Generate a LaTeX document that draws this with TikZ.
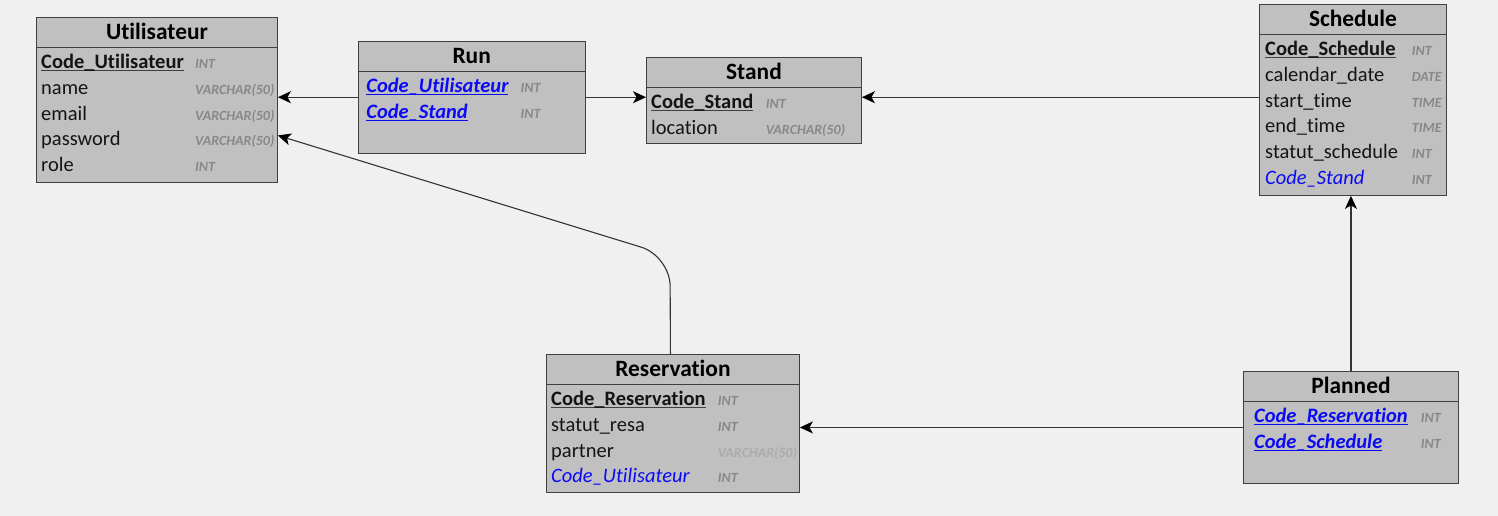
\documentclass[tikz,border=0pt]{standalone}
\usepackage{fontspec}
\setmainfont{Carlito}[Ligatures=NoCommon]
\usetikzlibrary{arrows.meta}

\definecolor{bgcol}{HTML}{F0F0F0}
\definecolor{boxfill}{HTML}{C0C0C0}
\definecolor{boxline}{HTML}{404040}
\definecolor{typecol}{HTML}{888888}
\definecolor{fkcol}{HTML}{0A0AF5}
\definecolor{relcol}{HTML}{333333}

% underlined key field
\newsavebox\ulbox
\newcommand\keyul[2]{\sbox\ulbox{#2}\rlap{\color{#1}\rule[-2.6pt]{\wd\ulbox}{0.9pt}}\usebox\ulbox}
\newcommand\pkey[1]{\textbf{\keyul{boxline}{#1}}}
\newcommand\fkey[1]{{\color{fkcol}\textbf{\textit{\keyul{fkcol}{#1}}}}}
\newcommand\fref[1]{{\color{fkcol}\textit{#1}}}

\tikzset{
  tbl/.style={draw=boxline, fill=boxfill, line width=0.9pt, inner sep=0pt},
  ttl/.style={font=\fontsize{23.4}{26}\selectfont\bfseries, anchor=base, inner sep=0pt, text=black},
  hdr/.style={draw=boxline, line width=0.9pt},
  fld/.style={font=\fontsize{20.5}{24}\selectfont, anchor=base west, inner sep=0pt, text=black!92},
  typ/.style={font=\fontsize{14}{16}\selectfont\bfseries\itshape, anchor=base west, inner sep=0pt, text=typecol},
  rel/.style={draw=relcol, line width=1.1pt, -{Stealth[length=13pt, width=12pt, inset=3.5pt, color=black]}}
}

% entity box: id, x, y, width, height, title
\newcommand\erbox[6]{%
  \node[tbl, minimum width=#4pt, minimum height=#5pt, anchor=north west] (#1) at (#2,#3) {};
  \node[ttl] (#1-t) at ([yshift=-22.7pt]#1.north) {#6};
  \draw[hdr] ([yshift=-30pt]#1.north west) -- ([yshift=-30pt]#1.north east);
}
% field row: id, row index, text offset, type offset, text, type
\newcommand\errow[6]{%
  \node[fld] (#1-f#2) at ([xshift=#3pt, yshift={-(51.5+#2*25.8)*1pt}]#1.north west) {#5};
  \node[typ] (#1-y#2) at ([xshift=#4pt, yshift={-(51.5+#2*25.8)*1pt}]#1.north west) {#6};
}

\begin{document}
\begin{tikzpicture}[x=1pt, y=-1pt]
  \fill[bgcol] (0,0) rectangle (1498,516);
  \useasboundingbox (0,0) rectangle (1498,516);

  % Utilisateur
  \erbox{U}{36}{17}{241}{165}{Utilisateur}
  \errow{U}{0}{5}{159}{\pkey{Code\_Utilisateur}}{INT}
  \errow{U}{1}{5}{159}{name}{VARCHAR(50)}
  \errow{U}{2}{5}{159}{email}{VARCHAR(50)}
  \errow{U}{3}{5}{159}{password}{VARCHAR(50)}
  \errow{U}{4}{5}{159}{role}{INT}

  % Run
  \erbox{Run}{357.5}{41}{227.5}{111.5}{Run}
  \errow{Run}{0}{8.7}{163}{\fkey{Code\_Utilisateur}}{INT}
  \errow{Run}{1}{8.7}{163}{\fkey{Code\_Stand}}{INT}

  % Stand
  \erbox{S}{646}{57.3}{215}{86}{Stand}
  \errow{S}{0}{5}{119.7}{\pkey{Code\_Stand}}{INT}
  \errow{S}{1}{5}{119.7}{location}{VARCHAR(50)}

  % Schedule
  \erbox{Sch}{1259}{4}{187}{191}{Schedule}
  \errow{Sch}{0}{6}{152.7}{\pkey{Code\_Schedule}}{INT}
  \errow{Sch}{1}{6}{152.7}{calendar\_date}{DATE}
  \errow{Sch}{2}{6}{152.7}{start\_time}{TIME}
  \errow{Sch}{3}{6}{152.7}{end\_time}{TIME}
  \errow{Sch}{4}{6}{152.7}{statut\_schedule}{INT}
  \errow{Sch}{5}{6}{152.7}{\fref{Code\_Stand}}{INT}

  % Reservation
  \erbox{R}{546}{354}{253}{138}{Reservation}
  \errow{R}{0}{5}{171.7}{\pkey{Code\_Reservation}}{INT}
  \errow{R}{1}{5}{171.7}{statut\_resa}{INT}
  \errow{R}{2}{5}{171.7}{partner}{\textcolor{typecol!70}{VARCHAR(50)}}
  \errow{R}{3}{5}{171.7}{\fref{Code\_Utilisateur}}{INT}

  % Planned
  \erbox{P}{1243}{371}{215}{112}{Planned}
  \errow{P}{0}{11}{177.7}{\fkey{Code\_Reservation}}{INT}
  \errow{P}{1}{11}{177.7}{\fkey{Code\_Schedule}}{INT}

  % relations
  \draw[rel] (Run.west) -- (Run.west -| U.east);
  \draw[rel] (Run.east) -- (Run.east -| S.west);
  \draw[rel] (Sch.west |- Run.east) -- (Run.east -| S.east);
  \draw[rel] (P.north) -- (P.north |- Sch.south);
  \draw[rel] (P.west) -- (P.west -| R.east);
  \coordinate (bend) at (670,256);
  \draw[rel, rounded corners=30pt] ([xshift=-2.5pt]R.north) -- (bend) -- ([yshift=-35.5pt]U.east);
\end{tikzpicture}
\end{document}
